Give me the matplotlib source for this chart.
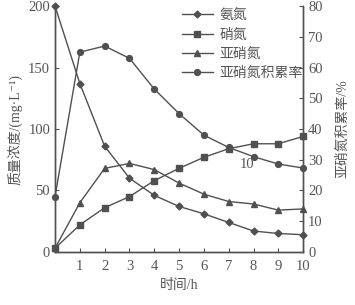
import matplotlib
matplotlib.use("Agg")
import matplotlib.pyplot as plt

plt.rcParams['font.family'] = ['Liberation Serif', 'Noto Sans CJK SC', 'DejaVu Sans']

hours = [0, 1, 2, 3, 4, 5, 6, 7, 8, 9, 10]
ammonia = [200, 137, 86, 60, 46, 37, 31, 24, 17, 15, 14]
nitrate = [3, 22, 36, 45, 58, 68, 77, 84, 88, 88, 94]
nitrite = [3, 40, 68, 72, 67, 56, 47, 41, 39, 34, 35]
accum_rate = [18, 65, 67, 63, 53, 45, 38, 34, 31, 28.6, 27.3]

names = ['氨氮', '硝氮', '亚硝氮', '亚硝氮积累率']
left_ticks = [0, 50, 100, 150, 200]
right_ticks = [0, 10, 20, 30, 40, 50, 60, 70, 80]
x_ticks = [1, 2, 3, 4, 5, 6, 7, 8, 9, 10]

c = '#505050'
tc = '#555555'
fig = plt.figure(figsize=(3.55, 3.05), dpi=100)
ax = fig.add_axes([0.155, 0.174, 0.699, 0.806])
ax2 = ax.twinx()

kw = dict(color=c, lw=1.0, markersize=4.2, clip_on=False)
h1, = ax.plot(hours, ammonia, marker='D', markersize=3.5, color=c, lw=1.0, clip_on=False)
h2, = ax.plot(hours, nitrate, marker='s', **kw)
h3, = ax.plot(hours, nitrite, marker='^', **kw)
h4, = ax2.plot(hours, accum_rate, marker='o', **kw)

ax.set_xlim(0, 10)
ax.set_ylim(0, 200)
ax2.set_ylim(0, 80)
ax.set_xticks(x_ticks)
ax.set_yticks(left_ticks)
ax2.set_yticks(right_ticks)

for a in (ax, ax2):
    a.spines['top'].set_visible(False)
    for s in a.spines.values():
        s.set_color(c)
        s.set_linewidth(1.0)
    a.tick_params(direction='in', length=3, width=0.8, colors=c, labelsize=10.5,
                  labelcolor=tc)
ax.tick_params(axis='x', pad=6)

ax.set_xlabel('时间/h', fontsize=10, color=tc, labelpad=4)
ax.set_ylabel('质量浓度/(mg·L⁻¹)', fontsize=10, color=tc, labelpad=3)
ax2.set_ylabel('亚硝氮积累率/%', fontsize=10, color=tc, labelpad=10)

ax.text(8 - 0.25, 71, '10', fontsize=10.5, color=tc, ha='center', va='center')

leg = ax2.legend([h1, h2, h3, h4], names, loc='upper left', bbox_to_anchor=(0.49, 1.01),
                 frameon=False, fontsize=10, handlelength=2.2, handletextpad=0.5,
                 labelspacing=0.45, borderaxespad=0)
for t in leg.get_texts():
    t.set_color(tc)

fig.savefig('out.png', dpi=100)
